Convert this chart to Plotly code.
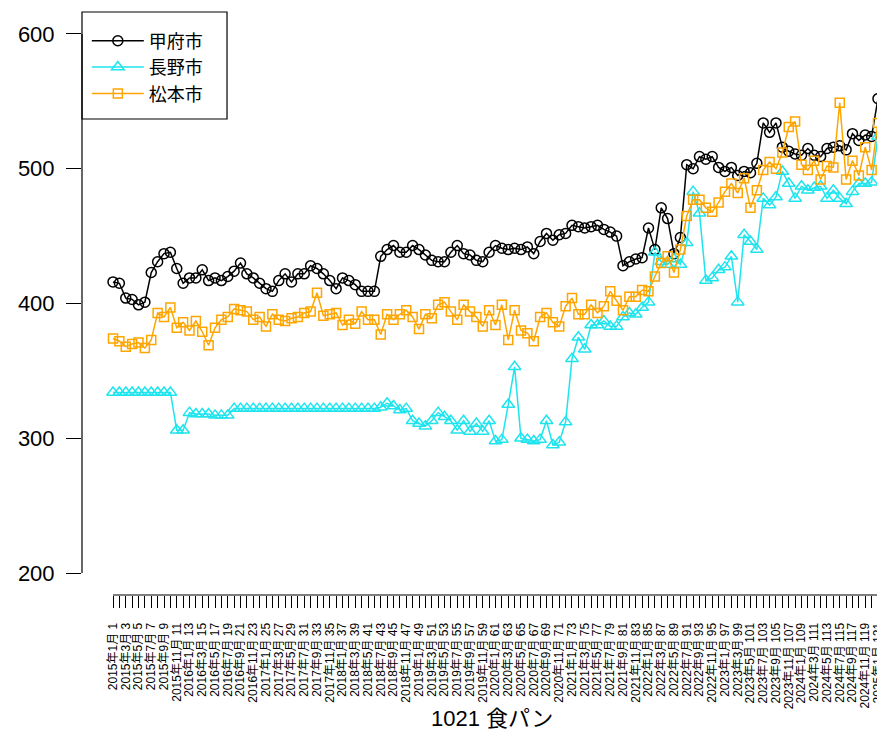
import plotly.graph_objects as go

# ---- data ----
idx = list(range(1, 122))

months = []
for k in range(121):
    y = 2015 + k // 12
    m = k % 12 + 1
    months.append(f"{y}年{m}月")

tick_text = [f"{months[i-1]} {i}" if i % 2 == 1 else "" for i in idx]

kofu = [
    416, 415, 404, 403, 399, 401, 423, 431, 437, 438,
    426, 415, 419, 419, 425, 417, 419, 417, 420, 424,
    430, 422, 419, 415, 411, 409, 417, 422, 416, 422,
    422, 428, 426, 422, 417, 411, 419, 417, 414, 409,
    409, 409, 435, 440, 443, 438, 438, 443, 440, 436,
    432, 431, 431, 438, 443, 437, 436, 432, 431, 438,
    443, 441, 440, 441, 440, 442, 437, 446, 452, 447,
    451, 452, 458, 457, 456, 457, 458, 455, 453, 450,
    428, 431, 433, 434, 456, 440, 471, 463, 437, 449,
    503, 500, 509, 507, 509, 501, 498, 501, 495, 498,
    497, 504, 534, 527, 534, 516, 513, 511, 510, 515,
    510, 509, 515, 516, 517, 514, 526, 521, 525, 524, 552,
]

nagano = [
    334, 334, 334, 334, 334, 334, 334, 334, 334, 334,
    306, 306, 319, 318, 318, 318, 317, 317, 317, 322,
    322, 322, 322, 322, 322, 322, 322, 322, 322, 322,
    322, 322, 322, 322, 322, 322, 322, 322, 322, 322,
    322, 322, 323, 326, 324, 321, 322, 313, 311, 309,
    313, 319, 316, 313, 306, 313, 305, 311, 305, 313,
    298, 299, 325, 353, 300, 299, 298, 299, 313, 295,
    297, 312, 359, 375, 366, 384, 384, 387, 383, 383,
    390, 393, 392, 397, 401, 438, 431, 429, 433, 429,
    445, 483, 467, 417, 419, 425, 427, 435, 401, 451,
    446, 440, 478, 473, 479, 498, 489, 478, 487, 484,
    486, 487, 478, 484, 478, 474, 483, 489, 489, 490, 524,
]

matsumoto = [
    374, 372, 368, 370, 371, 367, 373, 393, 390, 397,
    382, 386, 380, 387, 379, 369, 382, 388, 390, 396,
    395, 394, 388, 390, 383, 392, 388, 387, 389, 390,
    393, 394, 408, 391, 392, 393, 384, 388, 385, 394,
    388, 388, 377, 392, 388, 392, 395, 390, 381, 392,
    389, 399, 401, 394, 388, 399, 394, 390, 383, 395,
    384, 399, 373, 395, 380, 378, 372, 390, 393, 386,
    383, 398, 404, 392, 392, 399, 393, 398, 409, 402,
    395, 405, 405, 410, 409, 420, 430, 435, 423, 440,
    465, 477, 477, 471, 468, 475, 483, 489, 482, 493,
    471, 484, 499, 505, 500, 512, 531, 535, 503, 499,
    506, 492, 502, 501, 549, 492, 506, 495, 516, 499, 534,
]

series_names = ["甲府市", "長野市", "松本市"]
y_ticks = [200, 300, 400, 500, 600]
x_title = "1021 食パン"

FONT = "Liberation Sans, Arial, Noto Sans CJK JP, sans-serif"

fig = go.Figure()
styles = [
    ("black", "circle-open", 10),
    ("#1ee4ee", "triangle-up-open", 11),
    ("#ffa500", "square-open", 9),
]
for name, vals, (col, sym, sz) in zip(series_names, [kofu, nagano, matsumoto], styles):
    fig.add_trace(go.Scatter(
        x=idx, y=vals, name=name, mode="lines+markers", cliponaxis=False,
        line=dict(color=col, width=1.5),
        marker=dict(symbol=sym, size=sz, color=col, line=dict(color=col, width=1.5)),
    ))

fig.update_layout(
    width=877, height=726,
    margin=dict(l=74, r=0, t=4, b=139),
    paper_bgcolor="white", plot_bgcolor="white",
    font=dict(family=FONT, color="black"),
    showlegend=True,
    legend=dict(
        x=0.006, y=0.982, xanchor="left", yanchor="top",
        bgcolor="rgba(0,0,0,0)", borderwidth=0,
        font=dict(size=18, family=FONT), itemwidth=52,
        tracegroupgap=0,
    ),
    xaxis=dict(
        range=[-3.863, 122.1], showgrid=False, zeroline=False, showline=False,
        tickmode="array", tickvals=idx, ticktext=tick_text,
        ticks="outside", ticklen=12, tickwidth=1.2, tickcolor="black",
        tickangle=-90, tickfont=dict(size=12, family=FONT),
        ticklabelstandoff=10, ticklabeloverflow="allow", automargin=False,
    ),
    yaxis=dict(
        range=[183.7, 616.3], showgrid=False, zeroline=False, showline=False,
        tickmode="array", tickvals=y_ticks,
        ticks="outside", ticklen=15, tickwidth=1.2, tickcolor="black",
        tickfont=dict(size=22, family=FONT), ticklabelstandoff=7,
        automargin=False,
    ),
    shapes=[
        dict(type="line", xref="x", yref="paper", x0=1, x1=121, y0=0, y1=0,
             line=dict(color="black", width=1.2)),
        dict(type="line", xref="paper", yref="y", x0=0, x1=0, y0=200, y1=600,
             line=dict(color="black", width=1.2)),
        dict(type="rect", xref="paper", yref="paper", x0=0, x1=0.1806,
             y0=0.8165, y1=1.0, line=dict(color="black", width=1.2),
             fillcolor="white", layer="below"),
    ],
    annotations=[
        dict(text=x_title, xref="paper", yref="paper", x=0.51, y=-0.211,
             xanchor="center", yanchor="middle", showarrow=False,
             font=dict(size=22, family=FONT)),
    ],
)

fig.write_html("out.html")
